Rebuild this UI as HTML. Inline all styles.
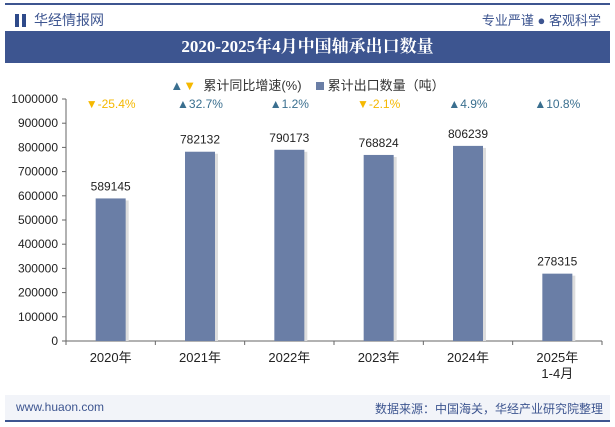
<!DOCTYPE html>
<html><head><meta charset="utf-8"><style>
body{margin:0;width:615px;height:427px;background:#fff;font-family:"Liberation Sans","Noto Sans CJK SC",sans-serif;overflow:hidden;position:relative}
.abs{position:absolute}
</style></head><body>
<div class="abs" style="left:5px;top:3px;width:605px;height:2px;background:#3d5590"></div>
<div class="abs" style="left:15px;top:10px;font-size:14px;color:#3d5590;display:flex;align-items:center"><span style="display:inline-block;width:4px;height:13px;background:#2e4a8a;margin-right:3px"></span><span style="display:inline-block;width:4px;height:13px;background:#2e4a8a;margin-right:8px"></span>华经情报网</div>
<div class="abs" style="right:14px;top:10px;font-size:13px;color:#3d5590">专业严谨 ● 客观科学</div>
<div class="abs" style="left:5px;top:31px;width:605px;height:32px;background:#3d5590;color:#fff;font-family:'Liberation Serif','Noto Serif CJK SC',serif;font-weight:bold;font-size:17px;text-align:center;line-height:32px">2020-2025年4月中国轴承出口数量</div>
<div class="abs" style="left:0;width:615px;top:75px;text-align:center;font-size:13px;color:#333">
<span><span style="color:#3a6f8f">▲</span><span style="color:#f5b800">▼</span>&nbsp; 累计同比增速(%)</span>&nbsp;&nbsp;&nbsp;&nbsp;<span><span style="display:inline-block;width:8px;height:8px;background:#6a7ea6"></span> 累计出口数量（吨）</span></div>
<svg class="abs" style="left:0;top:0" width="615" height="427" id="chart"></svg>
<div class="abs" style="left:5px;top:395px;width:605px;height:25px;background:#f2f4f9"></div>
<div class="abs" style="left:16px;top:400px;font-size:12px;color:#3d5590">www.huaon.com</div>
<div class="abs" style="right:12px;top:400px;font-size:12px;color:#3d5590">数据来源：中国海关，华经产业研究院整理</div>
<div class="abs" style="left:5px;top:420px;width:605px;height:2px;background:#3d5590"></div>
<script>
const categories=["2020年","2021年","2022年","2023年","2024年","2025年\n1-4月"];
const volumes=[589145,782132,790173,768824,806239,278315];
const growth=[-25.4,32.7,1.2,-2.1,4.9,10.8];
const yTicks=[0,100000,200000,300000,400000,500000,600000,700000,800000,900000,1000000];
const svg=document.getElementById('chart');const NS='http://www.w3.org/2000/svg';
const x0=66,x1=602,yTop=99,yBot=341,yMax=1000000;
const y=v=>yBot-(v/yMax)*(yBot-yTop);
const bw=(x1-x0)/categories.length;
const xc=i=>x0+bw*(i+0.5);
function mk(t,a){const e=document.createElementNS(NS,t);for(const k in a)e.setAttribute(k,a[k]);svg.appendChild(e);return e;}
let ax=mk('line',{x1:x0,y1:yTop,x2:x0,y2:yBot,stroke:'#666'});

let bx=mk('line',{x1:x0,y1:yBot,x2:x1,y2:yBot,stroke:'#666'});

yTicks.forEach(v=>{const t=mk('text',{x:x0-8,y:y(v)+4,'text-anchor':'end','font-size':12,fill:'#222'});t.textContent=v;

mk('line',{x1:x0-4,y1:y(v),x2:x0,y2:y(v),stroke:'#666'});});
for(let i=0;i<=categories.length;i++)mk('line',{x1:x0+bw*i,y1:yBot,x2:x0+bw*i,y2:yBot+4,stroke:'#666'});
categories.forEach((c,i)=>{
const cx=xc(i);const bh=yBot-y(volumes[i]);
mk('rect',{x:cx-12,y:y(volumes[i])+2,width:30,height:bh-2,fill:'#ddd'});
const r=mk('rect',{x:cx-15,y:y(volumes[i]),width:30,height:bh,fill:'#6a7ea6'});

const vl=mk('text',{x:cx,y:y(volumes[i])-8,'text-anchor':'middle','font-size':12,fill:'#222'});vl.textContent=volumes[i];

const lines=c.split('\n');lines.forEach((l,j)=>{const t=mk('text',{x:cx,y:yBot+21+j*16,'text-anchor':'middle','font-size':13,fill:'#222'});t.textContent=l;
});
const g=growth[i];const gt=mk('text',{x:cx,y:108,'text-anchor':'middle','font-size':12,fill:g<0?'#f5b800':'#3a6f8f'});
gt.textContent=(g<0?'▼':'▲')+g.toFixed(1)+'%';

});
</script>
</body></html>
